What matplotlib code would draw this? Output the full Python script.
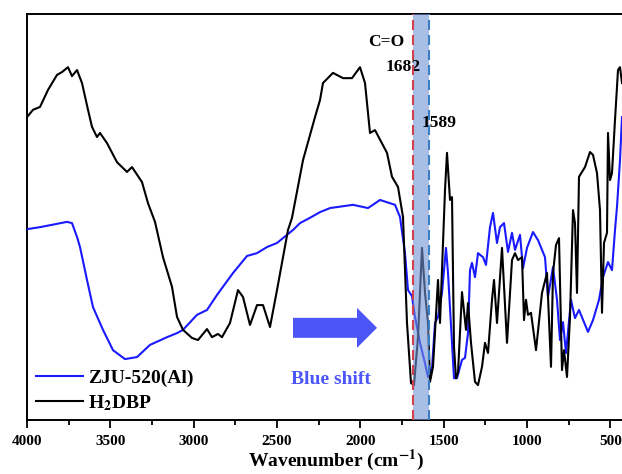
import matplotlib
matplotlib.use("Agg")
import matplotlib.pyplot as plt
import numpy as np

plt.rcParams['font.family'] = ['Liberation Serif', 'DejaVu Serif']
plt.rcParams['font.weight'] = 'bold'
plt.rcParams['mathtext.fontset'] = 'stix'

# FTIR spectra, wavenumber (cm-1) vs transmittance (a.u.)
wn_dbp = [4000, 3964, 3922, 3874, 3820, 3790, 3754, 3730, 3700, 3670, 3634, 3610,
          3580, 3562, 3520, 3460, 3400, 3370, 3310, 3274, 3232, 3184, 3130, 3100,
          3064, 3010, 2974, 2920, 2890, 2854, 2830, 2782, 2734, 2704, 2662, 2620,
          2584, 2542, 2500, 2464, 2434, 2410, 2344, 2272, 2242, 2224, 2164, 2104,
          2050, 2002, 1972, 1942, 1912, 1840, 1810, 1774, 1744, 1720, 1696, 1678,
          1654, 1630, 1612, 1594, 1582, 1564, 1534, 1522, 1492, 1480, 1462, 1450,
          1438, 1426, 1414, 1390, 1366, 1354, 1336, 1312, 1294, 1270, 1252, 1234,
          1210, 1198, 1180, 1150, 1120, 1090, 1072, 1054, 1030, 1018, 1006, 994,
          976, 946, 910, 880, 856, 844, 826, 808, 790, 778, 760, 742, 724, 712,
          700, 688, 670, 652, 622, 604, 580, 562, 550, 538, 520, 514, 502, 490,
          472, 454, 442, 430]
t_dbp = [74.6, 76.4, 77.1, 81.3, 85.0, 85.7, 86.9, 84.7, 86.2, 83.0, 76.4, 72.2,
         69.7, 70.7, 68.2, 63.5, 61.1, 62.3, 58.6, 53.4, 48.8, 40.1, 32.8, 25.4,
         22.2, 20.2, 19.7, 22.4, 20.4, 21.2, 20.4, 23.9, 32.0, 30.3, 23.4, 28.3,
         28.3, 22.9, 32.0, 40.1, 46.8, 49.8, 64.0, 74.6, 78.8, 83.0, 85.5, 84.2,
         84.2, 86.9, 83.0, 70.7, 71.4, 65.8, 59.9, 57.4, 50.0, 23.9, 9.1, 8.6,
         20.4, 42.4, 31.3, 23.9, 9.4, 13.1, 34.5, 23.9, 56.6, 65.8, 54.2, 54.9,
         18.0, 10.3, 11.6, 31.5, 22.2, 28.8, 19.0, 9.4, 8.6, 13.1, 19.0, 16.5,
         29.6, 34.5, 23.9, 42.4, 19.0, 39.4, 41.1, 39.4, 40.1, 24.6, 29.6, 25.9,
         26.4, 17.2, 31.3, 36.2, 13.1, 36.2, 43.1, 44.8, 12.3, 17.2, 10.6, 25.4,
         51.7, 48.5, 31.3, 59.9, 61.1, 62.3, 66.0, 65.3, 60.8, 51.7, 26.4, 43.6,
         46.1, 70.7, 59.1, 60.8, 73.9, 86.2, 86.9, 83.0]

wn_zju = [4000, 3922, 3760, 3730, 3700, 3682, 3640, 3604, 3544, 3484, 3412, 3340,
          3262, 3160, 3100, 3064, 2980, 2920, 2860, 2764, 2680, 2620, 2560, 2500,
          2404, 2362, 2302, 2242, 2182, 2044, 1954, 1882, 1822, 1792, 1762, 1732,
          1714, 1690, 1672, 1642, 1612, 1594, 1570, 1552, 1534, 1510, 1486, 1474,
          1450, 1438, 1420, 1390, 1372, 1354, 1342, 1330, 1312, 1294, 1264, 1246,
          1222, 1204, 1180, 1162, 1138, 1114, 1090, 1072, 1042, 1024, 1000, 964,
          934, 892, 874, 844, 820, 802, 784, 766, 736, 712, 688, 634, 604, 568,
          544, 514, 490, 472, 460, 442, 430]
t_zju = [47.0, 47.5, 48.8, 48.5, 45.1, 42.6, 34.5, 27.8, 22.2, 17.2, 15.0, 15.5,
         18.5, 20.4, 21.4, 22.2, 25.9, 27.1, 30.8, 36.2, 40.4, 41.1, 42.6, 43.6,
         46.8, 48.5, 49.8, 51.2, 52.2, 53.0, 52.2, 54.2, 53.4, 53.0, 50.0, 41.1,
         32.0, 30.5, 25.4, 19.0, 14.0, 10.6, 12.8, 23.9, 25.4, 31.3, 42.4, 36.2,
         19.0, 10.3, 10.3, 14.8, 15.3, 21.4, 36.9, 38.7, 35.2, 41.1, 40.1, 38.2,
         47.5, 51.0, 43.6, 47.5, 48.5, 41.4, 46.1, 41.9, 45.6, 37.4, 42.4, 46.3,
         44.3, 40.1, 30.3, 37.7, 29.6, 19.7, 24.1, 16.5, 29.6, 25.1, 27.1, 21.7,
         24.6, 29.6, 35.2, 38.9, 36.9, 46.8, 52.5, 64.0, 74.6]

co_dbp = 1682   # C=O stretch, ligand
co_zju = 1589   # C=O stretch, MOF

fig = plt.figure(figsize=(6.22, 4.74), dpi=100)
ax = fig.add_axes([27/622, 54/474, 595/622, 406/474])

ax.plot(wn_zju, t_zju, color='#1a1aff', lw=1.5, label='ZJU-520(Al)', zorder=3)
ax.plot(wn_dbp, t_dbp, color='black', lw=1.5, label=r'H$_{\mathbf{2}}$DBP', zorder=3)

ax.axvspan(co_zju, co_dbp, color='#7193d5', alpha=0.6, lw=0, zorder=4)
ax.axvline(co_dbp, color='#d0404f', lw=1.5, ls=(0, (4.8, 2.4)), zorder=6)
ax.axvline(co_zju, color='#3a7fc4', lw=1.5, ls=(0, (4.8, 2.4)), zorder=6)

ax.text(1846, 93.1, 'C=O', fontsize=12.5, ha='center', va='center', zorder=5)
ax.text(1744, 87.0, str(co_dbp), fontsize=12.5, ha='center', va='center', zorder=5)
ax.text(1528, 73.2, str(co_zju), fontsize=12.5, ha='center', va='center', zorder=5)

ax.annotate('', xy=(1900, 22.7), xytext=(2404, 22.7),
            arrowprops=dict(arrowstyle='simple,head_length=1,head_width=2,tail_width=1',
                            mutation_scale=14.4, color='#4b55f8', lw=0,
                            shrinkA=0, shrinkB=0))
ax.text(2176, 9.9, 'Blue shift', color='#4b55f8', fontsize=14,
        ha='center', va='center')

ax.set_xlim(4000, 430)
ax.set_ylim(0, 100)
ax.set_xticks(np.arange(4000, 499, -500))
ax.set_xticks(np.arange(3750, 499, -500), minor=True)
ax.set_yticks([])
ax.tick_params(axis='x', which='major', direction='out', length=6, width=1.3,
               labelsize=11, pad=5)
ax.tick_params(axis='x', which='minor', direction='out', length=3.5, width=1.3)
ax.spines['right'].set_visible(False)
for s in ['left', 'top', 'bottom']:
    ax.spines[s].set_linewidth(1.4)

ax.set_xlabel(r'Wavenumber (cm$^{\mathbf{-1}}$)', fontsize=14, fontweight='bold')
ax.xaxis.set_label_coords(0.52, -0.068)

ax.legend(loc='lower left', bbox_to_anchor=(0.015, 0.018), frameon=False,
          fontsize=14, handlelength=2.4, handletextpad=0.3, labelspacing=0.3,
          borderpad=0, borderaxespad=0)

fig.savefig('out.png', dpi=100)
